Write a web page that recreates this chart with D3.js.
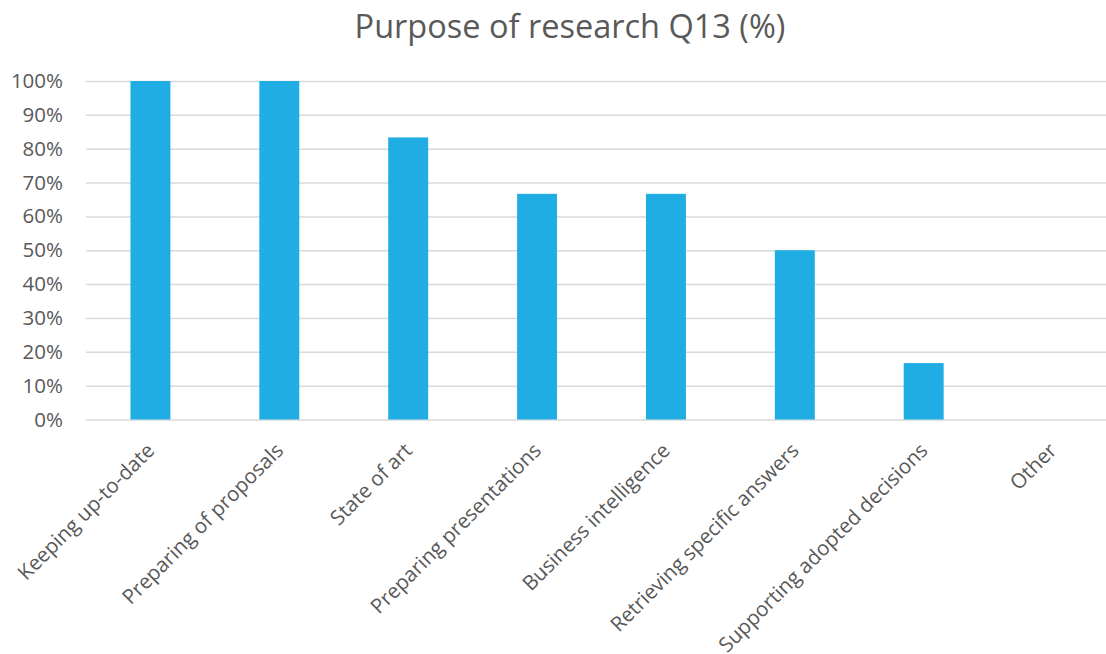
<!DOCTYPE html>
<html><head><meta charset="utf-8">
<script src="https://cdn.jsdelivr.net/npm/d3@7"></script>
<style>body{margin:0;background:#fff}</style>
</head><body>
<svg id="c" width="1106" height="654"></svg>
<script>
const categories = ["Keeping up-to-date","Preparing of proposals","State of art","Preparing presentations","Business intelligence","Retrieving specific answers","Supporting adopted decisions","Other"];
const values = [100, 100, 83.33, 66.67, 66.67, 50, 16.67, 0];
const yTicks = [0,10,20,30,40,50,60,70,80,90,100];
const title = "Purpose of research Q13 (%)";

const svg = d3.select("#c");
const font = "'Open Sans', sans-serif";
const m = {left:86, right:1117, gridRight:1106, top:81, bottom:419.5};
const x = d3.scaleBand().domain(categories).range([m.left, m.right]).paddingInner(0.69).paddingOuter(0.345);
const y = d3.scaleLinear().domain([0,100]).range([m.bottom, m.top]);

svg.append("text").attr("x", 570).attr("y", 38).attr("text-anchor","middle")
  .attr("font-family", font).attr("font-size", 32.5).attr("fill","#595959").text(title);

const ga = svg.append("g").attr("transform",`translate(${m.left},0)`)
  .call(d3.axisLeft(y).tickValues(yTicks).tickFormat(d=>d+"%").tickSize(-(m.gridRight-m.left)).tickPadding(23));
ga.select(".domain").remove();
ga.selectAll(".tick line").attr("stroke","#d9d9d9").attr("stroke-width",1.5);
ga.selectAll(".tick text").attr("font-family",font).attr("font-size",20.5).attr("fill","#595959");

svg.append("g").selectAll("rect").data(values).join("rect")
  .attr("x",(d,i)=>x(categories[i])).attr("width",x.bandwidth())
  .attr("y",d=>y(d)).attr("height",d=>y(0)-y(d)).attr("fill","#1FADE4");

const gx = svg.append("g").attr("transform",`translate(0,${m.bottom})`)
  .call(d3.axisBottom(x).tickSize(0).tickPadding(0));
gx.select(".domain").remove();
gx.selectAll(".tick text").attr("font-family",font).attr("font-size",20.5).attr("fill","#595959")
  .attr("text-anchor","end").attr("dy","0.71em").attr("y",0)
  .attr("transform","translate(-5,22) rotate(-45)");
</script>
</body></html>
